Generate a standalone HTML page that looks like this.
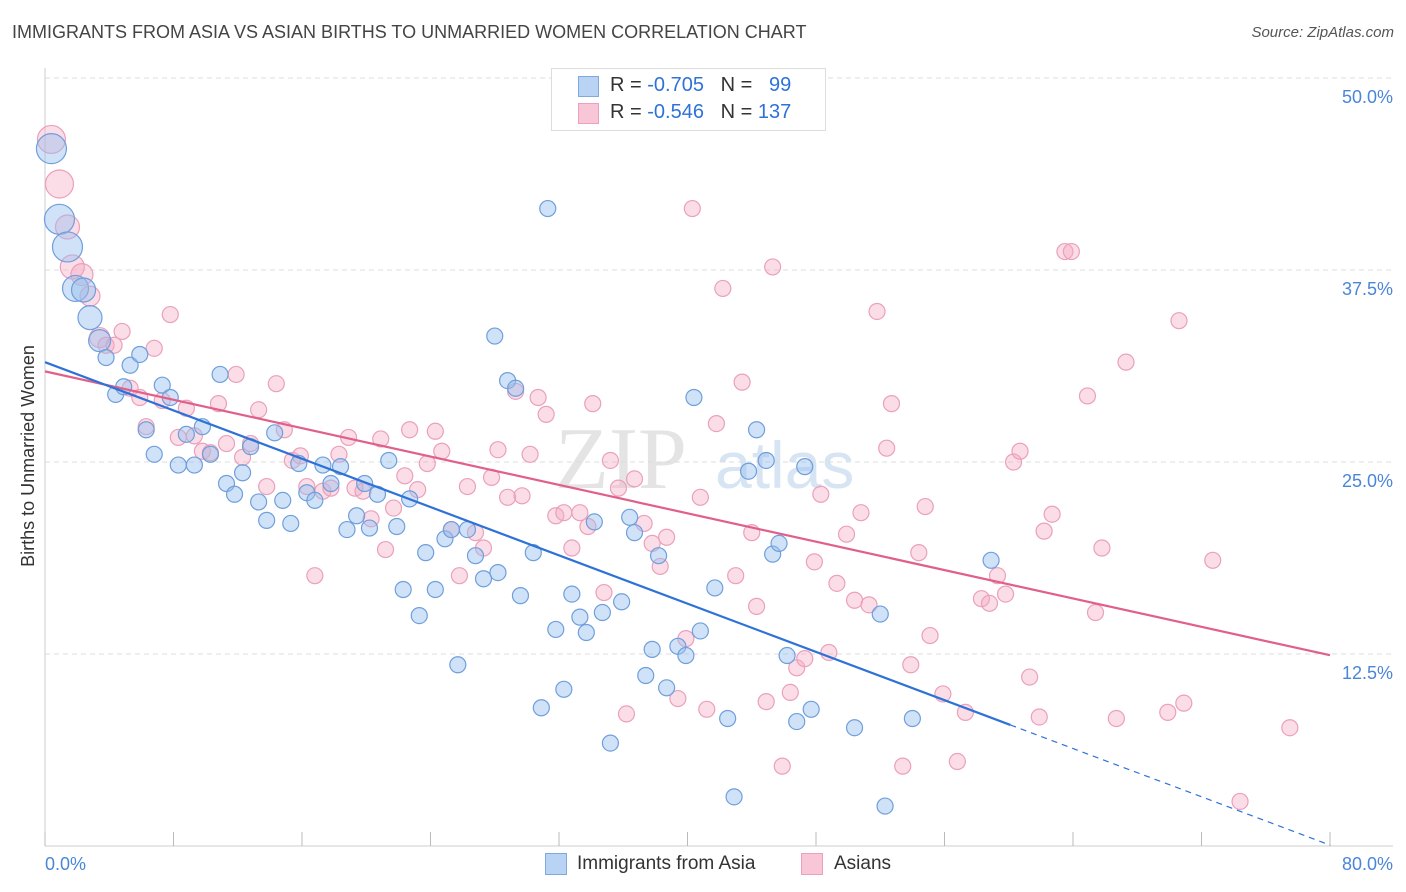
<!DOCTYPE html>
<html><head><meta charset="utf-8">
<style>
body{margin:0;background:#fff;font-family:"Liberation Sans",sans-serif;}
#wrap{position:relative;width:1406px;height:892px;}
.t{position:absolute;white-space:nowrap;}
</style></head>
<body>
<div id="wrap">
<div class="t" style="left:12px;top:22px;font-size:18px;color:#444;">IMMIGRANTS FROM ASIA VS ASIAN BIRTHS TO UNMARRIED WOMEN CORRELATION CHART</div>
<div class="t" style="right:12px;top:24px;font-size:15px;color:#555;font-style:italic;">Source: ZipAtlas.com</div>
<svg id="svg" width="1406" height="892" style="position:absolute;left:0;top:0"></svg>
</div>
<script>
const blueX=[0.4,0.9,1.4,1.9,2.4,2.8,3.4,3.8,4.4,4.9,5.3,5.9,6.3,6.8,7.3,7.8,8.3,8.8,9.3,9.8,10.3,10.9,11.3,11.8,12.3,12.8,13.3,13.8,14.3,14.8,15.3,15.8,16.3,16.8,17.3,17.8,18.4,18.8,19.4,19.9,20.2,20.7,21.4,21.9,22.3,22.7,23.3,23.7,24.3,24.9,25.3,25.7,26.3,26.8,27.3,28.0,28.2,28.8,29.3,29.6,30.4,30.9,31.3,31.8,32.3,32.8,33.3,33.7,34.2,34.7,35.2,35.9,36.4,36.7,37.4,37.8,38.2,38.7,39.4,39.9,40.4,40.8,41.7,42.5,42.9,43.8,44.3,44.9,45.3,45.7,46.2,46.8,47.3,47.7,50.4,52.0,52.3,54.0,58.9];
const blueY=[45.4,40.8,39.0,36.3,36.2,34.4,32.9,31.8,29.4,29.9,31.3,32.0,27.1,25.5,30.0,29.2,24.8,26.8,24.8,27.3,25.5,30.7,23.6,22.9,24.3,26.0,22.4,21.2,26.9,22.5,21.0,24.9,23.0,22.5,24.8,23.6,24.7,20.6,21.5,23.6,20.7,22.9,25.1,20.8,16.7,22.6,15.0,19.1,16.7,20.0,20.6,11.8,20.6,18.9,17.4,33.2,17.8,30.3,29.8,16.3,19.1,9.0,41.5,14.1,10.2,16.4,14.9,13.9,21.1,15.2,6.7,15.9,21.4,20.4,11.1,12.8,18.9,10.3,13.0,12.4,29.2,14.0,16.8,8.3,3.2,24.4,27.1,25.1,19.0,19.7,12.4,8.1,24.7,8.9,7.7,15.1,2.6,8.3,18.6];
const blueSize=[15,15,15,13,12,12,11];
const pinkX=[0.4,0.9,1.4,1.7,2.3,2.8,3.4,3.8,4.3,4.8,5.3,5.9,6.3,6.8,7.3,7.8,8.3,8.8,9.3,9.8,10.3,10.8,11.3,11.9,12.3,12.8,13.3,13.8,14.4,14.9,15.4,15.9,16.3,16.8,17.3,17.8,18.3,18.9,19.3,19.8,20.3,20.9,21.2,21.7,22.4,22.7,23.2,23.8,24.3,24.7,25.3,25.8,26.3,26.8,27.3,27.8,28.2,28.8,29.3,29.7,30.2,30.7,31.2,31.8,32.3,32.8,33.3,33.8,34.1,34.8,35.2,35.7,36.2,36.7,37.3,37.8,38.3,38.7,39.4,39.9,40.3,40.8,41.2,41.8,42.2,43.0,43.4,44.0,44.3,44.9,45.3,45.9,46.4,46.8,47.3,47.9,48.3,48.8,49.3,49.9,50.4,50.8,51.3,51.8,52.4,52.7,53.4,53.9,54.4,54.8,55.1,55.9,56.8,57.3,58.3,58.8,59.3,59.8,60.3,60.7,61.3,61.9,62.2,62.7,63.5,63.9,64.9,65.4,65.8,66.7,67.3,69.9,70.6,70.9,72.7,74.4,77.5];
const pinkY=[46.0,43.1,40.3,37.7,37.2,35.8,33.1,32.6,32.6,33.5,29.8,29.2,27.3,32.4,29.0,34.6,26.6,28.5,26.7,25.7,25.6,28.8,26.2,30.7,25.3,26.2,28.4,23.4,30.1,27.1,25.1,25.4,23.4,17.6,23.1,23.3,25.5,26.6,23.3,23.1,21.3,26.5,19.3,22.0,24.1,27.1,23.2,24.9,27.0,25.7,20.6,17.6,23.4,20.4,19.4,24.0,25.8,22.7,29.6,22.8,25.5,29.2,28.1,21.5,21.7,19.4,21.7,20.8,28.8,16.5,25.1,23.3,8.6,23.9,21.0,19.7,18.2,20.1,9.6,13.5,41.5,22.7,8.9,27.5,36.3,17.6,30.2,20.4,15.6,9.4,37.7,5.2,10.0,11.6,12.2,18.5,22.9,12.6,17.1,20.3,16.0,21.7,15.7,34.8,25.9,28.8,5.2,11.8,19.1,22.1,13.7,9.9,5.5,8.7,16.1,15.8,17.6,16.4,25.0,25.7,11.0,8.4,20.5,21.6,38.7,38.7,29.3,15.2,19.4,8.3,31.5,8.7,34.2,9.3,18.6,2.9,7.7];
const pinkSize=[14,14,12,12,11,10,10];
const blueFit=[31.5,-0.393]; const blueSolidEnd=60.1;
const pinkFit=[30.9,-0.231];
const xTicks=[0,80]; const yTicks=[12.5,25,37.5,50];

const X0=45,X1=1330,Y0=846,PX=(X1-X0)/80,PY=15.36;
const sx=v=>X0+v*PX, sy=v=>Y0-v*PY;
const svg=document.getElementById('svg');
const NS='http://www.w3.org/2000/svg';
function mk(tag,attrs,parent){const e=document.createElementNS(NS,tag);for(const k in attrs)e.setAttribute(k,attrs[k]);(parent||svg).appendChild(e);return e;}

// watermark
let wm=mk('text',{x:555,y:488,'font-size':88,'font-family':'Liberation Serif, serif',fill:'#e4e4e4'});
wm.textContent='ZIP';


let wm2=mk('text',{x:715,y:488,'font-size':66,'font-family':'Liberation Sans, sans-serif',fill:'#d7e4f3'});
wm2.textContent='atlas';



// gridlines & y labels
yTicks.forEach(v=>{
 const g=mk('line',{x1:X0,x2:1393,y1:sy(v),y2:sy(v),stroke:'#dcdcdc','stroke-dasharray':'5,4'});
 
 
 const t=mk('text',{x:1393,y:sy(v)+25,'text-anchor':'end','font-size':18,fill:'#4a86d8','font-family':'Liberation Sans, sans-serif'});
 t.textContent=v.toFixed(1)+'%';
 
 
});
// axes
let ax=mk('line',{x1:X0,x2:X0,y1:68,y2:Y0,stroke:'#ccc'});


let bx=mk('line',{x1:X0,x2:1393,y1:Y0,y2:Y0,stroke:'#ccc'});


for(let i=0;i<=10;i++){
 const tk=mk('line',{x1:sx(i*8),x2:sx(i*8),y1:Y0,y2:Y0-14,stroke:'#bbb'});
 
 
}
xTicks.forEach((v,i)=>{
 const t=mk('text',{x:i?1393:X0,y:870,'text-anchor':i?'end':'start','font-size':18,fill:'#4a86d8','font-family':'Liberation Sans, sans-serif'});
 t.textContent=v.toFixed(1)+'%';
 
 
});
let yt=mk('text',{x:34,y:456,'text-anchor':'middle','font-size':18,fill:'#333',transform:'rotate(-90 34 456)','font-family':'Liberation Sans, sans-serif'});
yt.textContent='Births to Unmarried Women';



// points
function pts(xs,ys,sz,fill,stroke,name){
 xs.forEach((x,i)=>{
  const c=mk('circle',{cx:sx(x),cy:sy(ys[i]),r:sz[i]||8,fill:fill,stroke:stroke,'stroke-width':1.2});
  
  
 });
}
pts(pinkX,pinkY,pinkSize,'rgba(244,170,196,0.4)','#eba0bb','point-asians');
pts(blueX,blueY,blueSize,'rgba(150,190,238,0.45)','#6f9fdc','point-immigrants-asia');

// trend lines
let pl=mk('line',{x1:sx(0),y1:sy(pinkFit[0]),x2:sx(80),y2:sy(pinkFit[0]+pinkFit[1]*80),stroke:'#e0608a','stroke-width':2.2});


let bl=mk('line',{x1:sx(0),y1:sy(blueFit[0]),x2:sx(blueSolidEnd),y2:sy(blueFit[0]+blueFit[1]*blueSolidEnd),stroke:'#2e72d8','stroke-width':2.2});


let bd=mk('line',{x1:sx(blueSolidEnd),y1:sy(blueFit[0]+blueFit[1]*blueSolidEnd),x2:sx(80),y2:sy(blueFit[0]+blueFit[1]*80),stroke:'#2e72d8','stroke-width':1.2,'stroke-dasharray':'6,5'});


</script>
<div class="t" style="left:551px;top:68px;width:273px;height:61px;border:1px solid #ddd;background:#fff;font-size:20px;color:#333;">
 <div style="position:absolute;left:26px;top:7px;width:19px;height:19px;background:#b9d3f4;border:1px solid #7ea9de;"></div>
 <div style="position:absolute;left:58px;top:5px;">R = <span style="color:#2e72d8">-0.705</span>&nbsp;&nbsp;&nbsp;N = &nbsp;&nbsp;<span style="color:#2e72d8">99</span></div>
 <div style="position:absolute;left:26px;top:34px;width:19px;height:19px;background:#f8c6d6;border:1px solid #eba0bb;"></div>
 <div style="position:absolute;left:58px;top:32px;">R = <span style="color:#2e72d8">-0.546</span>&nbsp;&nbsp;&nbsp;N = <span style="color:#2e72d8">137</span></div>
</div>
<div class="t" style="left:545px;top:853px;width:20px;height:20px;background:#b9d3f4;border:1px solid #7ea9de;"></div>
<div class="t" style="left:577px;top:853px;font-size:19px;color:#333;">Immigrants from Asia</div>
<div class="t" style="left:801px;top:853px;width:20px;height:20px;background:#f8c6d6;border:1px solid #eba0bb;"></div>
<div class="t" style="left:834px;top:853px;font-size:19px;color:#333;">Asians</div>
</body></html>
